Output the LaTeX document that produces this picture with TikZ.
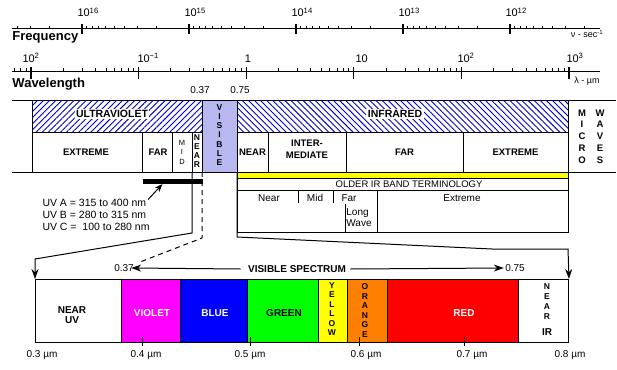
\documentclass[tikz,border=0pt]{standalone}
\usepackage{fontspec}
\setmainfont{Liberation Sans}
\usetikzlibrary{arrows.meta,patterns.meta}
\definecolor{hatch}{RGB}{0,0,204}
\definecolor{lavender}{RGB}{184,184,240}
\definecolor{vio}{RGB}{255,0,255}
\definecolor{blu}{RGB}{0,0,255}
\definecolor{grn}{RGB}{0,255,0}
\definecolor{yel}{RGB}{255,255,0}
\definecolor{org}{RGB}{255,128,0}
\definecolor{rd}{RGB}{255,0,0}
\newcommand{\fsz}[2]{\fontsize{#1}{#2}\selectfont}

\begin{document}
\begin{tikzpicture}[x=1pt,y=-1pt,inner sep=0pt,line width=1pt,
    hd/.style={font=\fsz{9.5}{10}\bfseries},
    big/.style={font=\fsz{10}{11}\bfseries},
    tx/.style={font=\fsz{10}{11}},
    ex/.style={font=\fsz{11}{12}},
    vert/.style={font=\fsz{8.5}{9.2}\bfseries,align=center},
    >={Stealth[length=10pt,width=7pt]}]
  \useasboundingbox (0,0) rectangle (617,369);
  \fill[white] (0,0) rectangle (617,369);

  % frequency scale
  \draw (12,29) -- (600,29);
  \foreach \k [count=\i from 0] in {16,...,12} {
    \draw[line width=1.3pt] ({82+107*\i},24) -- ({82+107*\i},34);
    \node[ex,anchor=base west] at ({77+107*\i},17) {10\textsuperscript{\k}};
  }
  \foreach \d in {0,...,5} \foreach \m in {2,...,9} {
    \pgfmathsetmacro\xx{82+107*(\d-log10(\m))}
    \ifdim\xx pt>13pt\ifdim\xx pt<599pt \draw (\xx,26) -- (\xx,29);\fi\fi
  }
  \node[font=\fsz{13}{14}\bfseries,anchor=west] (freq) at (12,37) {Frequency};
  \node[font=\fsz{9}{10}] (nu) at (587,34) {ν - sec\textsuperscript{-1}};

  % wavelength scale
  \draw (12,71) -- (600,71);
  \foreach \j in {0,...,5}
    \draw[line width=1.3pt] ({31+107.6*\j},67) -- ({31+107.6*\j},79);
  \foreach \j in {-1,...,5} \foreach \m in {2,...,9} {
    \pgfmathsetmacro\xx{31+107.6*(\j+log10(\m))}
    \ifdim\xx pt>13pt\ifdim\xx pt<599pt \draw (\xx,68) -- (\xx,71);\fi\fi
  }
  \node[ex,anchor=base west] at (22,62) {10\textsuperscript{2}};
  \node[ex,anchor=base west] at (137,62) {10\textsuperscript{−1}};
  \node[ex,anchor=base] at (248,62) {1};
  \node[ex,anchor=base west] at (355,62) {10};
  \node[ex,anchor=base west] at (457,62) {10\textsuperscript{2}};
  \node[ex,anchor=base west] at (566,62) {10\textsuperscript{3}};
  \node[font=\fsz{13}{14}\bfseries,anchor=west] (wave) at (12,84) {Wavelength};
  \node[font=\fsz{9}{10}] (lam) at (587,81) {λ - µm};
  \node[tx] (t37) at (200,90) {0.37};
  \node[tx] (t75) at (240,90) {0.75};

  % main bands
  \draw (12,100) -- (616,100) (12,172) -- (616,172);
  \fill[pattern={Lines[angle=45,distance=4.3pt,line width=0.9pt]},pattern color=hatch]
    (32,100) rectangle (202,132);
  \fill[pattern={Lines[angle=-45,distance=4.3pt,line width=0.9pt]},pattern color=hatch]
    (237,100) rectangle (568,132);
  \filldraw[fill=lavender] (202,100) rectangle (237,172);
  \draw (32,100) -- (32,172) (568,100) -- (568,172)
    (32,132) -- (202,132) (237,132) -- (568,132);
  \foreach \x in {142,172,192,268,346,463} \draw (\x,132) -- (\x,172);
  \node[font=\fsz{10.5}{11}\bfseries,fill=white,inner sep=1.5pt] (UV) at (112,114) {ULTRAVIOLET};
  \node[font=\fsz{10.5}{11}\bfseries,fill=white,inner sep=1.5pt] (IR) at (395,114) {INFRARED};
  \node[hd] (uvext) at (86,152) {EXTREME};
  \node[hd] (uvfar) at (158,152) {FAR};
  \node[font=\fsz{7.5}{9.5},align=center] (uvmid) at (182,152) {M\\I\\D};
  \node[vert] (uvnear) at (197,151) {N\\E\\A\\R};
  \node[vert] (vis) at (219.5,135) {V\\I\\S\\I\\B\\L\\E};
  \node[hd] (irnear) at (252.5,152) {NEAR};
  \node[hd,align=center,font=\fsz{9.5}{11.5}\bfseries] (irmid) at (307,149) {INTER-\\MEDIATE};
  \node[hd] (irfar) at (404.5,152) {FAR};
  \node[hd] (irext) at (515.5,152) {EXTREME};
  \node[font=\fsz{9.5}{11.8}\bfseries,align=center] (micro) at (582,136.5) {M\\I\\C\\R\\O};
  \node[font=\fsz{9.5}{11.8}\bfseries,align=center] (waves) at (600,136.5) {W\\A\\V\\E\\S};

  % older IR terminology
  \draw[fill=yel] (237,172.5) rectangle (568,178.5);
  \draw (237,178.5) rectangle (568,232);
  \draw (237,190) -- (568,190);
  \draw (298,190) -- (298,203) (333,190) -- (333,203) (377,190) -- (377,232) (345,204) -- (345,232);
  \node[font=\fsz{9.5}{10}] (old) at (409,184.5) {OLDER IR BAND TERMINOLOGY};
  \node[tx] (onear) at (269,198) {Near};
  \node[tx] (omid) at (315,198) {Mid};
  \node[tx] (ofar) at (349,198) {Far};
  \node[tx,align=left,font=\fsz{10}{11}] (olong) at (359,217.5) {Long\\Wave};
  \node[tx] (oext) at (462,198) {Extreme};

  % UV subbands
  \node[fill=black,minimum width=60,minimum height=4.5,anchor=north west] (uvbar) at (142,178.5) {};
  \node[font=\fsz{10.5}{12},align=left,anchor=north west] (uvtxt) at (42,198.5)
    {UV A = 315 to 400 nm\\UV B = 280 to 315 nm\\UV C = \ 100 to 280 nm};
  \draw[->,>={Stealth[length=8pt,width=6pt]}] ([shift={(-2,1)}]uvtxt.north east) -- ([xshift=-10]uvbar.south);

  % visible spectrum
  \foreach \a/\b/\c/\n in {35/121/white/nuv,121/180/vio/violet,180/247/blu/blue,
      247/318/grn/green,318/346.5/yel/yellow,346.5/387/org/orange,387/518/rd/red,518/568/white/nir} {
    \pgfmathsetmacro\w{\b-\a}
    \node[draw,fill=\c,minimum width=\w,minimum height=63,anchor=north west] (\n) at (\a,279) {};
  }
  \node[big,align=center,font=\fsz{10}{10.5}\bfseries] at (72,315) {NEAR\\UV};
  \node[big,white] at (152,313) {VIOLET};
  \node[big,white] at (215,313) {BLUE};
  \node[big] at (284,313) {GREEN};
  \node[vert,font=\fsz{8.5}{9.5}\bfseries] at (332,309) {Y\\E\\L\\L\\O\\W};
  \node[vert,font=\fsz{8.5}{9.5}\bfseries] at (365,310.5) {O\\R\\A\\N\\G\\E};
  \node[big,white] at (464,313) {RED};
  \node[vert,font=\fsz{8.5}{10}\bfseries] at (547,301.5) {N\\E\\A\\R};
  \node[big] at (547,332) {IR};
  \foreach \x in {142,250,359,464} \draw (\x,337) -- (\x,346);
  \foreach \x/\t in {42/0.3,146/0.4,250/0.5,366/0.6,472/0.7,570/0.8}
    \node[tx] at (\x,355) {\t\ µm};

  \node[big] (vs) at (297,269) {VISIBLE SPECTRUM};
  \node[tx] (l37) at (124,268) {0.37};
  \node[tx] (l75) at (515,268) {0.75};
  \draw[->] ([xshift=-7]vs.west) -- ([xshift=-3]l37.east);
  \draw[->] ([xshift=4]vs.east) -- ([xshift=-1]l75.west);

  % leaders
  \coordinate (nuvb) at (192,172);
  \coordinate (visl) at (202,172);
  \coordinate (visr) at (237,172);
  \draw[->] (nuvb) -- (192,233) -- (35,259) -- (nuv.north west);
  \draw[dash pattern=on 5pt off 4pt] (visl) -- (202,238) -- (140,262);
  \draw[->] (visr) -- (237,237) -- (492,249) -- (568,249) -- (nir.north east);
\end{tikzpicture}
\end{document}
